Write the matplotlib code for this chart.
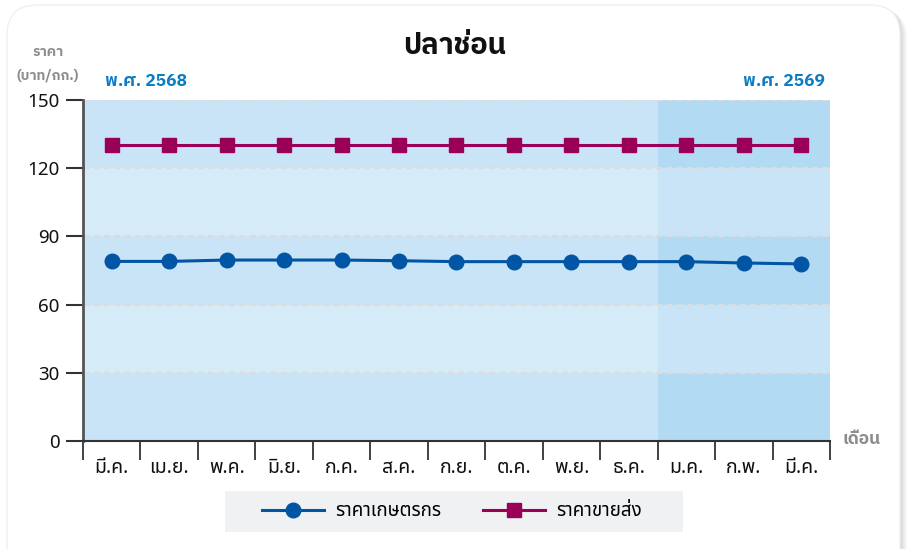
import matplotlib
matplotlib.use("Agg")
import matplotlib.pyplot as plt
from matplotlib import font_manager
from matplotlib.patches import FancyBboxPatch, Rectangle
from matplotlib.lines import Line2D
import numpy as np

FONT = ["Noto Sans Thai", "Noto Sans", "DejaVu Sans"]
plt.rcParams["font.family"] = FONT


def bold_family():
    # pick a Thai family that really has a bold face installed
    faces = {}
    for f in font_manager.fontManager.ttflist:
        w = f.weight if isinstance(f.weight, int) else \
            font_manager.weight_dict.get(f.weight, 400)
        faces.setdefault(f.name, set()).add(w)
    for name in ["Noto Sans Thai", "Noto Sans Thai UI", "IBM Plex Sans Thai",
                 "Kanit", "Prompt", "Sarabun"]:
        if any(w >= 700 for w in faces.get(name, ())):
            return name
    return "Noto Sans Thai"


BOLD = [bold_family(), "Noto Sans", "DejaVu Sans"]

# data
months = ["มี.ค.", "เม.ย.", "พ.ค.", "มิ.ย.", "ก.ค.", "ส.ค.", "ก.ย.",
          "ต.ค.", "พ.ย.", "ธ.ค.", "ม.ค.", "ก.พ.", "มี.ค."]
farm_price = [79.0, 79.0, 79.6, 79.6, 79.6, 79.3, 78.9,
              78.9, 78.9, 78.9, 78.9, 78.3, 77.9]
wholesale_price = [130, 130, 130, 130, 130, 130, 130,
                   130, 130, 130, 130, 130, 130]
series_names = ["ราคาเกษตรกร", "ราคาขายส่ง"]
years = ["พ.ศ. 2568", "พ.ศ. 2569"]
new_year_idx = 10
yticks = [0, 30, 60, 90, 120, 150]

BLUE = "#0055a5"
PURPLE = "#9b0058"

fig = plt.figure(figsize=(9.12, 5.49), dpi=100)

# background card in pixel coordinates
bg = fig.add_axes([0, 0, 1, 1], zorder=-5)
bg.set_xlim(0, 912)
bg.set_ylim(549, 0)
bg.axis("off")
for i in range(8):
    bg.add_patch(FancyBboxPatch((7 + i, 5 + i * 0.6), 893, 570,
                                boxstyle="round,pad=0,rounding_size=30",
                                fc="black", ec="none", alpha=0.025))
bg.add_patch(FancyBboxPatch((7, 5), 893, 570,
                            boxstyle="round,pad=0,rounding_size=30",
                            fc="white", ec="#f0f0f0", lw=1))
bg.add_patch(Rectangle((225, 491), 458, 41, fc="#f0f1f3", ec="none"))

bg.text(455, 46, "ปลาช่อน", ha="center", va="center", fontsize=21,
        fontweight="bold", color="#111111", family=BOLD)
bg.text(48, 52, "ราคา", ha="center", va="center", fontsize=10,
        fontweight="bold", color="#8c8c8c", family=BOLD)
bg.text(48, 76, "(บาท/กก.)", ha="center", va="center", fontsize=10,
        fontweight="bold", color="#8c8c8c", family=BOLD)
bg.text(105, 82, years[0], ha="left", va="center", fontsize=12.5,
        fontweight="bold", color="#0a7dc2", family=BOLD)
bg.text(825, 82, years[1], ha="right", va="center", fontsize=12.5,
        fontweight="bold", color="#0a7dc2", family=BOLD)
bg.text(843, 440, "เดือน", ha="left", va="center", fontsize=12.5,
        fontweight="bold", color="#8c8c8c", family=BOLD)

# main chart
ax = fig.add_axes([83 / 912, 1 - 441 / 549, 747 / 912, 341 / 549])
ax.set_facecolor("none")
x = np.arange(len(months))
x0, x1 = -0.5, len(months) - 0.5
xs = new_year_idx - 0.5
ax.set_xlim(x0, x1)
ax.set_ylim(yticks[0], yticks[-1])

left_cols = ["#c8e4f6", "#d6ebf8"]
right_cols = ["#b2daf3", "#c8e4f6"]
for k in range(len(yticks) - 1):
    lo, hi = yticks[k], yticks[k + 1]
    ax.add_patch(Rectangle((x0, lo), xs - x0, hi - lo,
                           fc=left_cols[k % 2], ec="none", zorder=0))
    ax.add_patch(Rectangle((xs, lo), x1 - xs, hi - lo,
                           fc=right_cols[k % 2], ec="none", zorder=0))
for t in yticks[1:]:
    ax.axhline(t, color="#dcdcdc", lw=1.5, ls=(0, (3, 2)), zorder=1)

ax.plot(x, wholesale_price, color=PURPLE, lw=2.2, marker="s",
        markersize=10, zorder=3, clip_on=False)
ax.plot(x, farm_price, color=BLUE, lw=2.2, marker="o",
        markersize=10.5, zorder=3, clip_on=False)

ax.set_yticks(yticks)
ax.tick_params(axis="y", length=12, width=1.5, color="#333333",
               labelsize=13.5, pad=5, labelcolor="#111111")
ax.set_xticks(x)
ax.set_xticklabels(months)
ax.tick_params(axis="x", which="major", length=0, pad=12, labelsize=14,
               labelcolor="#111111")
ax.set_xticks(np.arange(x0, x1 + 0.01, 1.0), minor=True)
ax.tick_params(axis="x", which="minor", length=14, width=1.3,
               color="#333333")
for s in ["top", "right"]:
    ax.spines[s].set_visible(False)
ax.spines["left"].set_color("#555555")
ax.spines["left"].set_linewidth(2)
ax.spines["bottom"].set_color("#333333")
ax.spines["bottom"].set_linewidth(1.5)

handles = [Line2D([], [], color=BLUE, lw=2.2, marker="o", markersize=10.5),
           Line2D([], [], color=PURPLE, lw=2.2, marker="s", markersize=10)]
fig.legend(handles, series_names, loc="center",
           bbox_to_anchor=(452 / 912, 1 - 511.5 / 549), ncol=2,
           frameon=False, fontsize=13.5, handlelength=3.3,
           columnspacing=2.2, handletextpad=0.6)

fig.savefig("out.png", dpi=100)
